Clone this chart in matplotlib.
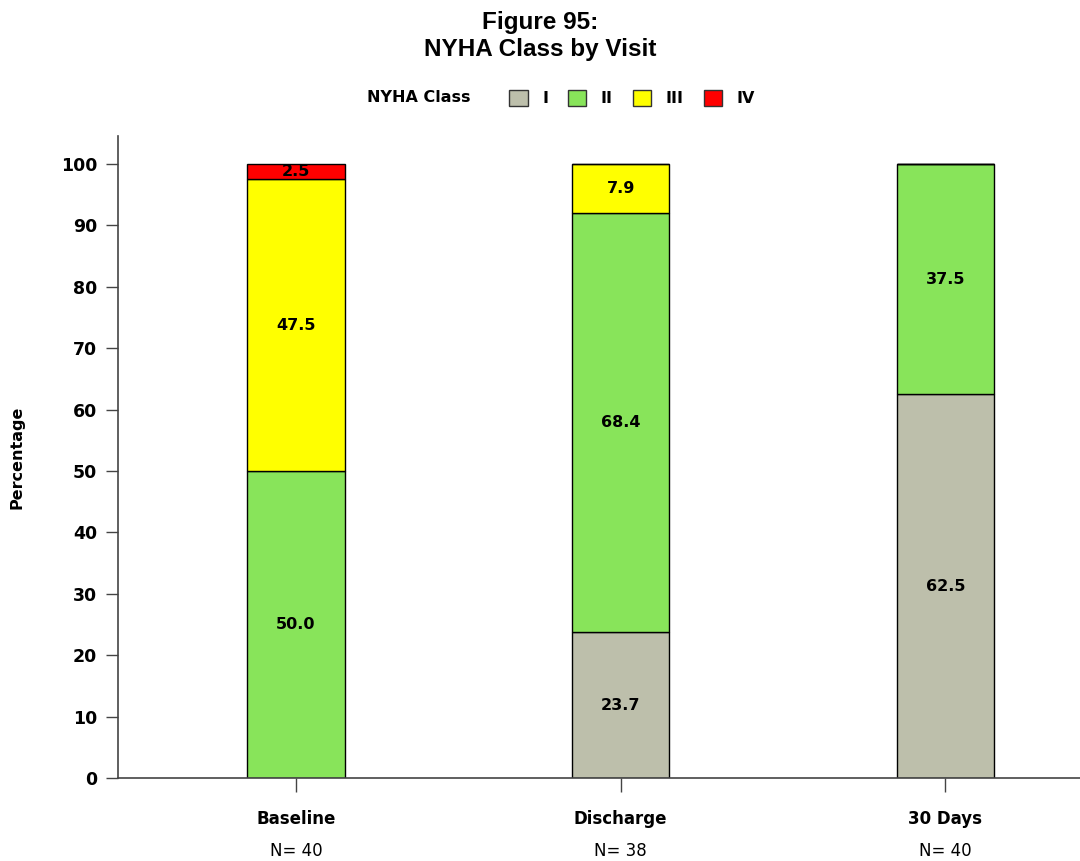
import matplotlib
matplotlib.use("Agg")
import matplotlib.pyplot as plt
from matplotlib.patches import Patch
import numpy as np

categories = ["Baseline", "Discharge", "30 Days"]
n_counts = [40, 38, 40]
class_names = ["I", "II", "III", "IV"]
class_I = [0.0, 23.7, 62.5]
class_II = [50.0, 68.4, 37.5]
class_III = [47.5, 7.9, 0.0]
class_IV = [2.5, 0.0, 0.0]
colors = ["#bdbfab", "#88e45a", "#ffff00", "#ff0000"]

series = [class_I, class_II, class_III, class_IV]

fig = plt.figure(figsize=(10.8, 8.61), dpi=100)
ax = fig.add_axes([0.1093, 0.0964, 0.8907, 0.7456])

x = np.arange(len(categories))
bottom = np.zeros(len(categories))
for vals, col in zip(series, colors):
    vals = np.array(vals)
    ax.bar(x, vals, width=0.30, bottom=bottom, color=col, edgecolor="black", linewidth=1)
    for xi, b, v in zip(x, bottom, vals):
        if v > 0:
            ax.text(xi, b + v / 2, f"{v:.1f}", ha="center", va="center",
                    fontsize=11.5, fontweight="bold", color="black")
    bottom += vals

ax.set_xlim(-0.548, 2.415)
ax.set_ylim(0, 104.56)
ax.set_yticks(range(0, 101, 10))
ax.set_xticks(x)
ax.set_xticklabels(categories, fontsize=12, fontweight="bold")
for xi, nn in zip(x, n_counts):
    ax.text(xi, -0.113, f"N= {nn}", transform=ax.get_xaxis_transform(),
            ha="center", va="center", fontsize=12)

for s in ["top", "right"]:
    ax.spines[s].set_visible(False)
for s in ["left", "bottom"]:
    ax.spines[s].set_color("#444444")
    ax.spines[s].set_linewidth(1.2)
ax.tick_params(axis="y", direction="out", length=9, width=1, color="#444444",
               labelsize=12.5, pad=6)
ax.tick_params(axis="x", direction="out", length=10, width=1, color="#444444",
               labelsize=12, pad=13)
for lab in ax.get_yticklabels():
    lab.set_fontweight("bold")
ax.set_ylabel("Percentage", fontsize=11.5, fontweight="bold", labelpad=26)

fig.suptitle("Figure 95:\nNYHA Class by Visit", x=0.5, y=0.987, fontsize=17.5,
             fontweight="bold", family="Liberation Sans", linespacing=1.2)

fig.text(419 / 1080, 1 - 98 / 861, "NYHA Class", ha="center", va="center",
         fontsize=11.5, fontweight="bold")
handles = [Patch(facecolor=c, edgecolor="#333333", label=nm) for c, nm in zip(colors, class_names)]
leg = fig.legend(handles=handles, loc="center", bbox_to_anchor=(632 / 1080, 1 - 98 / 861),
                 ncol=4, frameon=False, handlelength=1.15, handleheight=1.15,
                 handletextpad=0.9, columnspacing=1.25,
                 prop={"size": 11.5, "weight": "bold"})

fig.savefig("out.png", dpi=100)
